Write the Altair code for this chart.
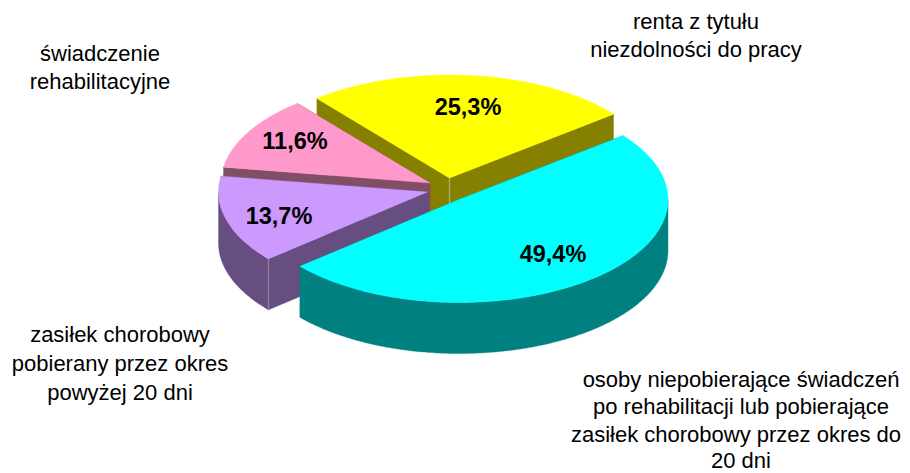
import math
import altair as alt

# ---- data ----
slice_names = ["renta z tytułu niezdolności do pracy", "świadczenie rehabilitacyjne",
               "zasiłek chorobowy pobierany przez okres powyżej 20 dni",
               "osoby niepobierające świadczeń po rehabilitacji lub pobierające zasiłek chorobowy przez okres do 20 dni"]
slice_values = [25.3, 11.6, 13.7, 49.4]
slice_labels = ["25,3%", "11,6%", "13,7%", "49,4%"]
top_colors = ["#FFFF00", "#FF99CC", "#CC99FF", "#00FFFF"]
side_colors = ["#858000", "#804F66", "#664F80", "#008080"]
seam_colors = ["#B5B28A", None, "#9A8CA8", None]

# ---- layout (page pixels) ----
OFF = 8
START_DEG = 38.3
RX, RY, DEPTH = 209, 103, 51
centers = [(449.5, 178), (430, 183), (427.5, 192), (459, 199.5)]
pct_x = [468, 295, 279, 553]
pct_y = [108, 142, 217, 255]

note_lines = ["renta z tytułu", "niezdolności do pracy",
              "świadczenie", "rehabilitacyjne",
              "zasiłek chorobowy", "pobierany przez okres", "powyżej 20 dni",
              "osoby niepobierające świadczeń", "po rehabilitacji lub pobierające",
              "zasiłek chorobowy przez okres do", "20 dni"]
note_x = [696, 696, 100, 100, 120, 120, 120, 741, 741, 736, 741]
note_y = [22, 50, 54, 82, 335, 364, 393, 380, 407, 435, 461]


def pt(c, deg, dz=0):
    r = math.radians(deg)
    return [c[0] + RX * math.cos(r) - OFF, c[1] - RY * math.sin(r) + dz - OFF]


def arc(c, a, b, dz=0):
    n = max(2, int(abs(b - a) * 1.5))
    return [pt(c, a + (b - a) * i / n, dz) for i in range(n + 1)]


def feature(ring, fill):
    ring = ring + [ring[0]]
    return {"type": "Feature", "properties": {"fill": fill},
            "geometry": {"type": "Polygon", "coordinates": [ring]}}


features = []
angle = START_DEG
for value, c, top, side, seam in zip(slice_values, centers, top_colors, side_colors, seam_colors):
    a, b = angle, angle + value * 3.6
    apex = [c[0] - OFF, c[1] - OFF]
    apex_low = [apex[0], apex[1] + DEPTH]
    # radial faces
    for t in (a, b):
        features.append(feature([apex, pt(c, t), pt(c, t, DEPTH), apex_low], side))
    # front rim
    ra, rb = max(a, 180), min(b, 360)
    if rb > ra:
        features.append(feature(arc(c, ra, rb) + arc(c, rb, ra, DEPTH), side))
    # seam between faces
    if seam:
        if b < 180:
            sx, sy = apex
        else:
            sx, sy = pt(c, b)
        features.append(feature([[sx - .3, sy], [sx + .3, sy], [sx + .3, sy + DEPTH], [sx - .3, sy + DEPTH]], seam))
    # top surface
    features.append(feature([apex] + arc(c, a, b), top))
    angle = b

geo = alt.InlineData(values={"type": "FeatureCollection", "features": features},
                     format=alt.DataFormat(type="json", property="features"))

shapes = alt.Chart(geo).mark_geoshape(strokeWidth=0.4).encode(
    fill=alt.Fill("properties.fill:N", scale=None),
    stroke=alt.Stroke("properties.fill:N", scale=None),
).project(type="identity", scale=1, translate=[0, 0])

pct_data = alt.Data(values=[{"t": t, "x": x - OFF, "y": y - OFF} for t, x, y in zip(slice_labels, pct_x, pct_y)])
pct = alt.Chart(pct_data).mark_text(font="Liberation Sans", fontSize=23.5, fontWeight="bold", color="black",
                                    align="center", baseline="middle").encode(
    x=alt.X("x:Q", scale=None), y=alt.Y("y:Q", scale=None), text="t:N")

note_data = alt.Data(values=[{"t": t, "x": x - OFF, "y": y - OFF} for t, x, y in zip(note_lines, note_x, note_y)])
notes = alt.Chart(note_data).mark_text(font="Liberation Sans", fontSize=22, color="black",
                                       align="center", baseline="middle").encode(
    x=alt.X("x:Q", scale=None), y=alt.Y("y:Q", scale=None), text="t:N")

chart = alt.layer(shapes, pct, notes).properties(
    width=894, height=464, padding=0, autosize=alt.AutoSizeParams(type="none"), background="white"
).configure_view(stroke=None)

chart.save("out.html", embed_options={"renderer": "svg", "actions": False})
